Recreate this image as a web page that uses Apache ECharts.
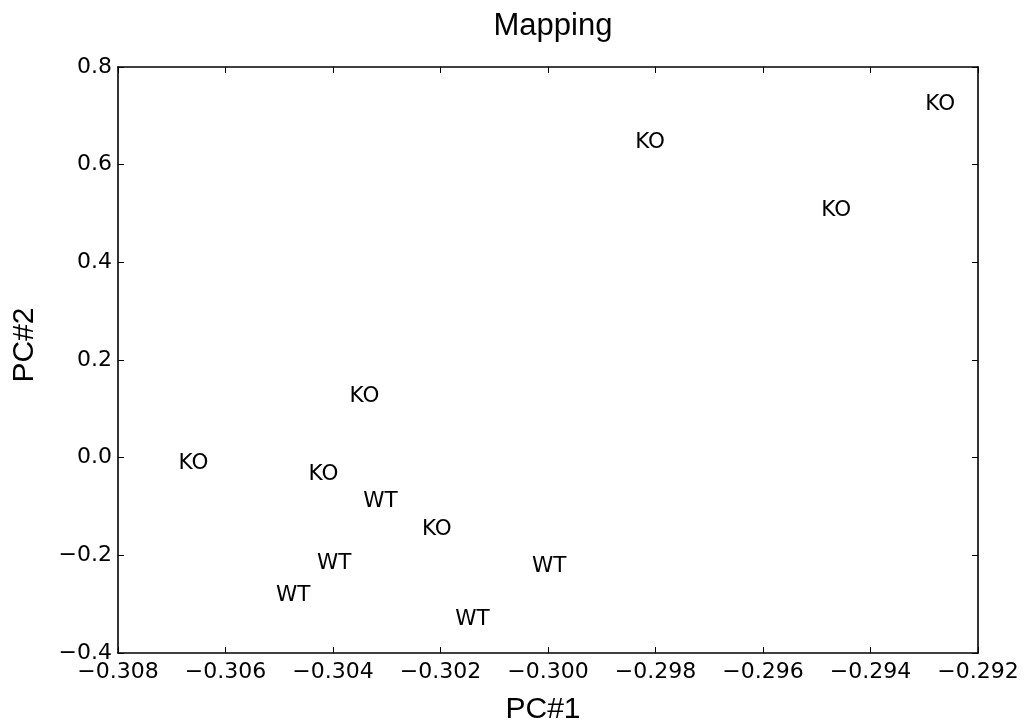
<!DOCTYPE html>
<html>
<head>
<meta charset="utf-8">
<title>Mapping</title>
<script src="https://cdn.jsdelivr.net/npm/echarts@6/dist/echarts.min.js"></script>
<style>
  html, body { margin: 0; padding: 0; background: #fff; }
  #chart { width: 1024px; height: 724px; }
</style>
</head>
<body>
<div id="chart"></div>
<script>
// Sample projections on the first two principal components
const pc1 = [-0.292982, -0.298378, -0.294917, -0.303691, -0.306873, -0.304454,
             -0.303436, -0.302346, -0.304298, -0.300298, -0.305060, -0.301725];
const pc2 = [0.711, 0.634, 0.4937, 0.1124, -0.0241, -0.0475,
             -0.102, -0.1588, -0.2291, -0.234, -0.2941, -0.3433];
const groups = ['KO', 'KO', 'KO', 'KO', 'KO', 'KO',
                'WT', 'KO', 'WT', 'WT', 'WT', 'WT'];

// Axis ranges and tick spacing
const xRange = { min: -0.308, max: -0.292, step: 0.002, digits: 3 };
const yRange = { min: -0.4, max: 0.8, step: 0.2, digits: 1 };

const tickFont = 'DejaVu Sans';
const labelFont = 'Liberation Sans';

function fmt(digits) {
  return function (v) {
    const p = Math.pow(10, digits);
    const r = Math.round(v * p) / p;
    return (r < 0 ? '\u2212' : '') + Math.abs(r).toFixed(digits);
  };
}

const lineStyle = { color: '#000', width: 1.6 };
const tickStyle = { inside: true, length: 6, lineStyle: { color: '#000', width: 1 } };

function axis(range, position, withLabels, extra) {
  return Object.assign({
    type: 'value',
    position: position,
    min: range.min,
    max: range.max,
    interval: range.step,
    splitLine: { show: false },
    axisLine: { show: true, onZero: false, lineStyle: lineStyle },
    axisTick: tickStyle,
    axisLabel: withLabels ? {
      show: true,
      formatter: fmt(range.digits),
      fontFamily: tickFont,
      fontSize: 22,
      color: '#000',
      margin: position === 'bottom' ? 8 : 6
    } : { show: false }
  }, extra || {});
}

const chart = echarts.init(document.getElementById('chart'), null, { renderer: 'canvas' });

chart.setOption({
  animation: false,
  backgroundColor: '#fff',
  title: {
    text: 'Mapping',
    left: 548,
    top: 6,
    textAlign: 'center',
    textStyle: { fontFamily: labelFont, fontSize: 31, fontWeight: 'normal', color: '#000' }
  },
  grid: {
    left: 118, top: 67, width: 860, height: 586,
    containLabel: false,
    outerBoundsMode: 'none'
  },
  xAxis: [
    axis(xRange, 'bottom', true, {
      name: 'PC#1',
      nameLocation: 'middle',
      nameGap: 42,
      nameTextStyle: { fontFamily: labelFont, fontSize: 30, color: '#000', padding: [0, 10, 0, 0] }
    }),
    axis(xRange, 'top', false)
  ],
  yAxis: [
    axis(yRange, 'left', true, {
      name: 'PC#2',
      nameLocation: 'middle',
      nameGap: 78,
      nameTextStyle: { fontFamily: labelFont, fontSize: 30, color: '#000', padding: [0, 0, 0, 30] }
    }),
    axis(yRange, 'right', false)
  ],
  series: [{
    type: 'scatter',
    xAxisIndex: 0,
    yAxisIndex: 0,
    silent: true,
    symbolSize: 0,
    itemStyle: { color: '#000', opacity: 1 },
    data: pc1.map((x, i) => [x, pc2[i], groups[i]]),
    label: {
      show: true,
      position: 'right',
      distance: 0,
      offset: [0, -6],
      formatter: p => p.value[2],
      fontFamily: tickFont,
      fontSize: 21.5,
      color: '#000',
      opacity: 1,
      textBorderWidth: 0
    }
  }]
});
</script>
</body>
</html>
